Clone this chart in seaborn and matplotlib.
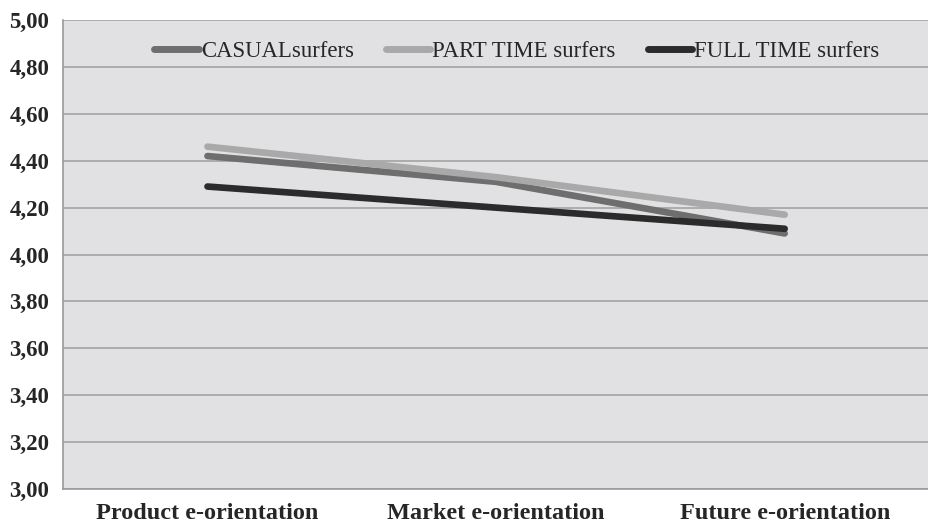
import matplotlib
matplotlib.use("Agg")
import matplotlib.pyplot as plt
import seaborn as sns
import pandas as pd
from matplotlib.ticker import FixedLocator, FuncFormatter

categories = ["Product e-orientation", "Market e-orientation", "Future e-orientation"]
series_names = ["CASUALsurfers", "PART TIME surfers", "FULL TIME surfers"]
casual = [4.42, 4.31, 4.09]
part_time = [4.46, 4.33, 4.17]
full_time = [4.29, 4.20, 4.11]
yticks = [3.0, 3.2, 3.4, 3.6, 3.8, 4.0, 4.2, 4.4, 4.6, 4.8, 5.0]

rows = []
for name, vals in zip(series_names, [casual, part_time, full_time]):
    for c, v in zip(categories, vals):
        rows.append({"cat": c, "value": v, "series": name})
df = pd.DataFrame(rows)

sns.set_theme(style="white")
plt.rcParams["font.family"] = ["Liberation Serif", "DejaVu Serif"]

fig = plt.figure(figsize=(9.29, 5.27), dpi=100)
ax = fig.add_axes([0.068, 0.072, 0.932, 0.89])
ax.set_facecolor("#e1e1e3")

palette = {"CASUALsurfers": "#6e6e6e", "PART TIME surfers": "#a9a9a9", "FULL TIME surfers": "#2b2b2b"}
sns.lineplot(data=df, x="cat", y="value", hue="series", palette=palette,
             hue_order=series_names, linewidth=4.8, ax=ax, sort=False)
for ln in ax.get_lines():
    ln.set_solid_capstyle("round")

ax.set_xlim(-0.5, 2.5)
ax.set_ylim(3.0, 5.0)
ax.set_yticks(yticks)
ax.yaxis.set_major_formatter(FuncFormatter(lambda v, p: f"{v:.2f}".replace(".", ",")))
ax.yaxis.grid(True, color="#a3a3a3", linewidth=1.2)
ax.set_axisbelow(True)
ax.set_xlabel("")
ax.set_ylabel("")

ax.set_xticks(range(len(categories)))
ax.set_xticklabels(categories, fontsize=17.5, fontweight="bold")
ax.xaxis.set_minor_locator(FixedLocator([0.5, 1.5]))
ax.tick_params(axis="x", which="major", length=0, pad=10)
ax.tick_params(axis="x", which="minor", length=7, color="#9a9a9a", width=1.2)
ax.tick_params(axis="y", length=7, color="#9a9a9a", width=1.2, labelsize=16.5, pad=3)
for lbl in ax.get_yticklabels():
    lbl.set_fontweight("bold")

for s in ["top", "right"]:
    ax.spines[s].set_visible(False)
for s in ["left", "bottom"]:
    ax.spines[s].set_color("#9a9a9a")
    ax.spines[s].set_linewidth(1.2)

leg = ax.legend(loc="center", bbox_to_anchor=(0.524, 0.932), ncol=3, frameon=False,
                fontsize=16.4, handlelength=1.95, handletextpad=0.1, columnspacing=1.4)
for h in leg.get_lines():
    h.set_linewidth(5)
    h.set_solid_capstyle("round")

fig.savefig("out.png", dpi=100)
